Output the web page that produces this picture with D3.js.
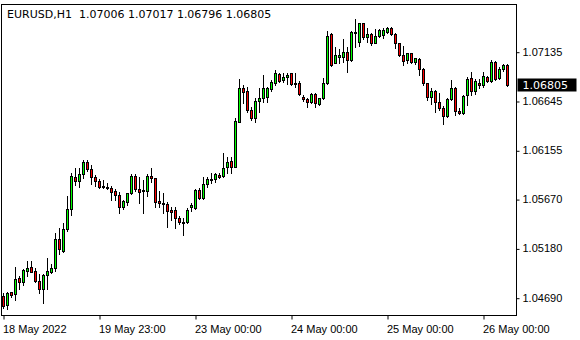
<!DOCTYPE html>
<html>
<head>
<meta charset="utf-8">
<script src="https://cdn.jsdelivr.net/npm/d3@7"></script>
<style>
  body { margin: 0; background: #fff; }
  svg { display: block; font-family: "DejaVu Sans", Verdana, sans-serif; }
  .axis text { font-size: 11px; fill: #000; }
  .axis line { stroke: #000; }
</style>
</head>
<body>
<div id="chart"></div>
<script>
// EURUSD H1 bars, 18 May 23:00 .. 26 May 06:00
var opens = [1.04707,1.04617,1.04744,1.04724,1.04883,1.04849,1.04955,1.04992,1.04955,1.04859,
  1.04773,1.04913,1.04948,1.04982,1.05270,1.05157,1.05370,1.05569,1.05887,1.05853,
  1.05919,1.06039,1.05969,1.05893,1.05853,1.05800,1.05795,1.05783,1.05750,1.05711,
  1.05588,1.05644,1.05728,1.05903,1.05770,1.05760,1.05753,1.05899,1.05877,1.05651,
  1.05628,1.05621,1.05562,1.05562,1.05479,1.05447,1.05445,1.05594,1.05582,1.05760,
  1.05678,1.05820,1.05862,1.05867,1.05907,1.05899,1.05986,1.06049,1.05992,1.06439,
  1.06771,1.06744,1.06551,1.06471,1.06645,1.06672,1.06682,1.06764,1.06821,1.06910,
  1.06854,1.06881,1.06920,1.06827,1.06821,1.06688,1.06665,1.06632,1.06712,1.06612,
  1.06672,1.06827,1.07308,1.07026,1.07079,1.07079,1.07129,1.07053,1.07328,1.07234,
  1.07417,1.07284,1.07311,1.07225,1.07291,1.07301,1.07334,1.07368,1.07311,1.07219,
  1.07102,1.07053,1.07119,1.07036,1.07063,1.06960,1.06821,1.06682,1.06747,1.06638,
  1.06578,1.06496,1.06662,1.06771,1.06549,1.06529,1.06705,1.06874,1.06747,1.06827,
  1.06804,1.06881,1.06847,1.07030,1.06874,1.06960,1.07006];
var highs = [1.04737,1.04750,1.04750,1.04992,1.04906,1.04972,1.05055,1.05055,1.04982,1.04925,
  1.04922,1.05082,1.05025,1.05336,1.05380,1.05435,1.05701,1.05926,1.05976,1.05976,
  1.06059,1.06059,1.06006,1.05910,1.05873,1.05860,1.05833,1.05800,1.05767,1.05738,
  1.05661,1.05734,1.05919,1.05919,1.05887,1.05860,1.05919,1.05976,1.05880,1.05753,
  1.05734,1.05644,1.05588,1.05588,1.05502,1.05479,1.05579,1.05628,1.05767,1.05777,
  1.05893,1.05893,1.05932,1.05932,1.05926,1.06125,1.06091,1.06091,1.06473,1.06861,
  1.06804,1.06787,1.06585,1.06672,1.06774,1.06904,1.06787,1.06854,1.06953,1.06925,
  1.06920,1.06920,1.06926,1.06920,1.06844,1.06705,1.06672,1.06722,1.06722,1.06678,
  1.06874,1.07344,1.07318,1.07185,1.07159,1.07258,1.07185,1.07344,1.07457,1.07423,
  1.07423,1.07368,1.07318,1.07358,1.07358,1.07368,1.07384,1.07378,1.07324,1.07225,
  1.07192,1.07125,1.07125,1.07072,1.07069,1.06970,1.06827,1.06771,1.06754,1.06727,
  1.06595,1.06672,1.06854,1.06787,1.06573,1.06705,1.06887,1.06936,1.06861,1.06861,
  1.06936,1.06894,1.07053,1.07043,1.06980,1.07013,1.07017];
var lows = [1.04587,1.04578,1.04694,1.04667,1.04773,1.04816,1.04906,1.04945,1.04849,1.04740,
  1.04640,1.04779,1.04932,1.04955,1.05121,1.05147,1.05353,1.05512,1.05810,1.05787,
  1.05877,1.05952,1.05820,1.05800,1.05777,1.05777,1.05767,1.05661,1.05661,1.05535,
  1.05572,1.05611,1.05725,1.05750,1.05634,1.05535,1.05704,1.05837,1.05594,1.05594,
  1.05535,1.05390,1.05462,1.05380,1.05422,1.05313,1.05429,1.05555,1.05569,1.05668,
  1.05668,1.05787,1.05833,1.05843,1.05877,1.05893,1.05932,1.05926,1.05985,1.06435,
  1.06622,1.06531,1.06456,1.06436,1.06536,1.06638,1.06638,1.06744,1.06804,1.06831,
  1.06837,1.06814,1.06804,1.06787,1.06705,1.06645,1.06588,1.06622,1.06588,1.06607,
  1.06665,1.06815,1.06993,1.07020,1.07026,1.07036,1.06936,1.07046,1.07179,1.07192,
  1.07258,1.07229,1.07202,1.07219,1.07284,1.07268,1.07324,1.07301,1.07169,1.07092,
  1.07003,1.07026,1.07026,1.07013,1.06904,1.06804,1.06655,1.06615,1.06539,1.06556,
  1.06416,1.06483,1.06655,1.06506,1.06516,1.06516,1.06605,1.06705,1.06715,1.06771,
  1.06787,1.06837,1.06837,1.06854,1.06861,1.06946,1.06796];
var closes = [1.04607,1.04734,1.04720,1.04873,1.04849,1.04962,1.04988,1.04950,1.04859,1.04773,
  1.04916,1.04955,1.04982,1.05270,1.05171,1.05370,1.05569,1.05899,1.05853,1.05919,
  1.06039,1.05969,1.05893,1.05853,1.05787,1.05787,1.05783,1.05744,1.05711,1.05588,
  1.05654,1.05728,1.05903,1.05767,1.05744,1.05753,1.05899,1.05877,1.05644,1.05628,
  1.05618,1.05555,1.05545,1.05479,1.05439,1.05437,1.05562,1.05608,1.05760,1.05678,
  1.05820,1.05869,1.05869,1.05919,1.05893,1.05976,1.06042,1.05992,1.06446,1.06771,
  1.06738,1.06551,1.06473,1.06645,1.06678,1.06771,1.06771,1.06837,1.06920,1.06844,
  1.06887,1.06904,1.06814,1.06814,1.06712,1.06665,1.06638,1.06712,1.06622,1.06672,
  1.06821,1.07291,1.07003,1.07102,1.07102,1.07129,1.07053,1.07328,1.07318,1.07417,
  1.07284,1.07311,1.07219,1.07291,1.07351,1.07351,1.07368,1.07311,1.07219,1.07102,
  1.07046,1.07119,1.07036,1.07069,1.06960,1.06821,1.06682,1.06747,1.06638,1.06578,
  1.06496,1.06662,1.06771,1.06549,1.06529,1.06695,1.06861,1.06747,1.06847,1.06804,
  1.06894,1.06847,1.07030,1.06861,1.06960,1.07003,1.06805];

var priceTicks = [1.04690, 1.05180, 1.05670, 1.06155, 1.06645, 1.07135];
var timeTickBars = [0, 24, 48, 72, 96, 120];
var timeTickLabels = ["18 May 2022", "19 May 23:00", "23 May 00:00", "24 May 00:00", "25 May 00:00", "26 May 00:00"];
var symbol = "EURUSD,H1";

var svgWidth = 580;
var svgHeight = 340;
var plot = { left: 1.5, top: 4.5, right: 516.5, bottom: 315.5 };

var svg = d3.select("#chart").append("svg")
  .attr("width", svgWidth)
  .attr("height", svgHeight);

svg.append("rect").attr("width", svgWidth).attr("height", svgHeight).attr("fill", "#fff");

var bars = opens.map(function (o, i) {
  return { i: i, open: o, high: highs[i], low: lows[i], close: closes[i] };
});

var x = d3.scaleLinear().domain([0, bars.length - 1]).range([3.5, 3.5 + 4 * (bars.length - 1)]);
var y = d3.scaleLinear().domain([1.04518, 1.07609]).range([315, 4]);

// frame
svg.append("rect")
  .attr("x", plot.left).attr("y", plot.top)
  .attr("width", plot.right - plot.left).attr("height", plot.bottom - plot.top)
  .attr("fill", "none").attr("stroke", "#000");

var candles = svg.append("g");

// wicks
candles.selectAll("line.wick")
  .data(bars).enter().append("line")
  .attr("class", "wick")
  .attr("x1", function (d) { return x(d.i); })
  .attr("x2", function (d) { return x(d.i); })
  .attr("y1", function (d) { return Math.round(y(d.high)); })
  .attr("y2", function (d) { return Math.round(y(d.low)) + 1; })
  .attr("stroke", "#000");

// bodies
candles.selectAll("rect.body")
  .data(bars).enter().append("rect")
  .attr("class", "body")
  .attr("x", function (d) { return x(d.i) - 1; })
  .attr("width", 2)
  .attr("y", function (d) { return Math.round(y(Math.max(d.open, d.close))) + 0.5; })
  .attr("height", function (d) {
    var h = Math.round(y(Math.min(d.open, d.close))) - Math.round(y(Math.max(d.open, d.close)));
    return Math.max(h, 1);
  })
  .attr("fill", function (d) { return d.close >= d.open ? "#00ff00" : "#ff0000"; })
  .attr("stroke", "#000");

// price axis
var rightAxis = d3.axisRight(y)
  .tickValues(priceTicks)
  .tickFormat(d3.format(".5f"))
  .tickSize(3)
  .tickPadding(3)
  .tickSizeOuter(0);

var ra = svg.append("g")
  .attr("class", "axis")
  .attr("transform", "translate(" + plot.right + ",0)")
  .call(rightAxis);
ra.select(".domain").remove();
ra.selectAll(".tick line").attr("transform", "translate(0,0.5)");

// time axis
var bottomAxis = d3.axisBottom(x)
  .tickValues(timeTickBars)
  .tickFormat(function (d, i) { return timeTickLabels[i]; })
  .tickSize(4)
  .tickSizeOuter(0);

var ba = svg.append("g")
  .attr("class", "axis")
  .attr("transform", "translate(0," + plot.bottom + ")")
  .call(bottomAxis);
ba.select(".domain").remove();
ba.selectAll(".tick text")
  .attr("text-anchor", "start")
  .attr("x", -1)
  .attr("y", 10);

// current price label
var last = bars[bars.length - 1];
var lastY = y(last.close);
svg.append("rect")
  .attr("x", plot.right + 1)
  .attr("y", Math.round(lastY) - 6.5)
  .attr("width", 59)
  .attr("height", 13)
  .attr("fill", "#000");
svg.append("text")
  .attr("x", plot.right + 6)
  .attr("y", lastY + 4)
  .attr("font-size", "11px")
  .attr("fill", "#fff")
  .text(d3.format(".5f")(last.close));

// header
svg.append("text")
  .attr("x", 7)
  .attr("y", 17.5)
  .attr("font-size", "11px")
  .attr("fill", "#000")
  .attr("xml:space", "preserve")
  .text(symbol + "  " + [last.open, last.high, last.low, last.close].map(d3.format(".5f")).join(" "));
</script>
</body>
</html>
